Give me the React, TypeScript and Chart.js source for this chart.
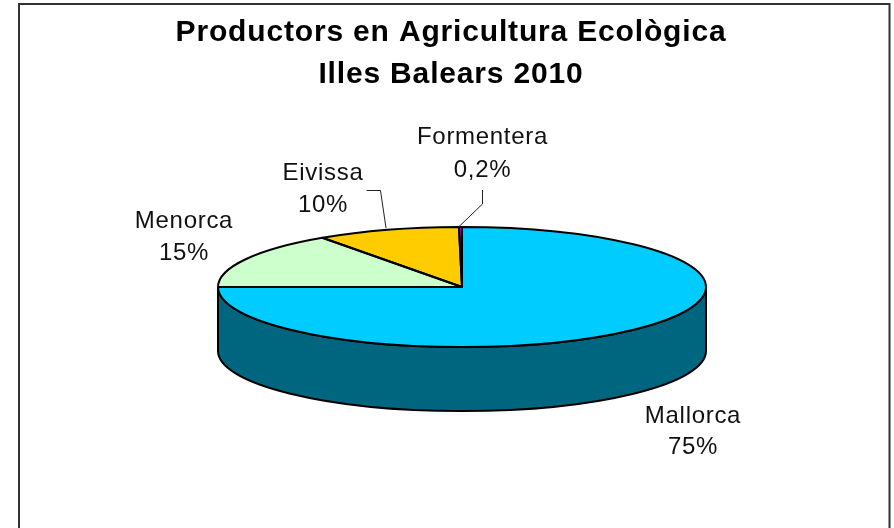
import React, { useEffect, useRef } from "react";
import { Chart, registerables } from "chart.js";

Chart.register(...registerables);

const categories = ["Mallorca", "Menorca", "Eivissa", "Formentera"];
const values = [75, 15.3, 9.5, 0.2];
const percentLabels = ["75%", "15%", "10%", "0,2%"];
const topColors = ["#00CCFF", "#CCFFCC", "#FFCC00", "#CC00CC"];
const wallColors = ["#006680", "#668066", "#806600", "#660066"];
const titleLines = ["Productors en Agricultura Ecològica", "Illes Balears 2010"];

const FONT = '"Liberation Sans", Arial, sans-serif';
const PIE = { cx: 462, cy: 287, rx: 244, ry: 60, depth: 64 };
const LABEL_POS: [number, number, number][] = [
  [693, 416, 447],
  [184, 221, 253],
  [323, 173, 205],
  [482.5, 137, 170],
];
const LEADERS: [number, number][][] = [
  [],
  [],
  [[366.5, 190.5], [380.5, 190.5], [386, 228]],
  [[482.5, 190], [482.5, 204], [458, 227.5]],
];

const pie3d = {
  id: "pie3d",
  beforeDraw(chart: any) {
    const ctx = chart.ctx;
    ctx.save();
    ctx.fillStyle = "#fff";
    ctx.fillRect(0, 0, chart.width, chart.height);
    ctx.strokeStyle = "#333";
    ctx.lineWidth = 2;
    ctx.strokeRect(19, 4, 870.5, 600);
    ctx.restore();
    ctx.letterSpacing = "0.83px";
  },
  beforeDatasetsDraw(chart: any) {
    const ctx = chart.ctx;
    const arcs = chart.getDatasetMeta(0).data;
    const { cx, cy, rx, ry, depth } = PIE;
    ctx.save();
    arcs.forEach((arc: any, i: number) => {
      const a0 = Math.max(arc.startAngle, 0);
      const a1 = Math.min(arc.endAngle, Math.PI);
      if (a1 <= a0) return;
      ctx.beginPath();
      ctx.ellipse(cx, cy, rx, ry, 0, a0, a1);
      ctx.ellipse(cx, cy + depth, rx, ry, 0, a1, a0, true);
      ctx.closePath();
      ctx.fillStyle = wallColors[i];
      ctx.fill();
      ctx.strokeStyle = "#000";
      ctx.lineWidth = 2;
      ctx.lineJoin = "round";
      ctx.stroke();
    });
    ctx.restore();
    const a = arcs[0];
    ctx.save();
    ctx.translate(cx, cy);
    ctx.scale(rx / a.outerRadius, ry / a.outerRadius);
    ctx.translate(-a.x, -a.y);
  },
  afterDatasetsDraw(chart: any) {
    const ctx = chart.ctx;
    ctx.restore();
    const arcs = chart.getDatasetMeta(0).data;
    const { cx, cy, rx, ry } = PIE;
    ctx.save();
    ctx.strokeStyle = "#000";
    ctx.lineWidth = 2;
    ctx.lineJoin = "round";
    arcs.forEach((arc: any) => {
      ctx.beginPath();
      ctx.moveTo(cx, cy);
      ctx.ellipse(cx, cy, rx, ry, 0, arc.startAngle, arc.endAngle);
      ctx.closePath();
      ctx.stroke();
    });
    ctx.strokeStyle = "#222";
    ctx.lineWidth = 1;
    LEADERS.forEach((pts) => {
      if (!pts.length) return;
      ctx.beginPath();
      pts.forEach(([x, y], k) => (k ? ctx.lineTo(x, y) : ctx.moveTo(x, y)));
      ctx.stroke();
    });
    ctx.fillStyle = "#111";
    ctx.font = `24px ${FONT}`;
    ctx.letterSpacing = "0.7px";
    ctx.textAlign = "center";
    ctx.textBaseline = "middle";
    categories.forEach((name, i) => {
      const [x, y1, y2] = LABEL_POS[i];
      ctx.fillText(name, x, y1);
      ctx.fillText(percentLabels[i], x, y2);
    });
    ctx.restore();
  },
};

export default function App() {
  const ref = useRef<HTMLCanvasElement>(null);
  useEffect(() => {
    document.body.style.margin = "0";
    const chart = new Chart(ref.current as HTMLCanvasElement, {
      type: "pie",
      data: {
        labels: categories,
        datasets: [
          {
            data: values,
            backgroundColor: topColors,
            borderWidth: 0,
            clip: false,
          } as any,
        ],
      },
      options: {
        animation: false,
        responsive: false,
        layout: { padding: { left: 8, right: 0, top: 0, bottom: 49 } },
        plugins: {
          legend: { display: false },
          tooltip: { enabled: false },
          title: {
            display: true,
            text: titleLines,
            color: "#000",
            font: { family: FONT, size: 30, weight: "bold", lineHeight: 1.4 },
            padding: { top: 12, bottom: 1 },
          },
        },
      },
      plugins: [pie3d],
    });
    return () => chart.destroy();
  }, []);
  return <canvas ref={ref} width={894} height={528} style={{ display: "block" }} />;
}
